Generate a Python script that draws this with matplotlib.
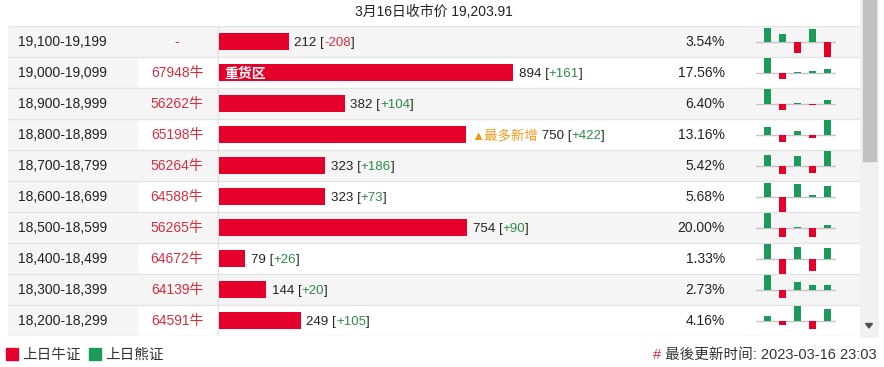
import numpy as np
import matplotlib.pyplot as plt
from matplotlib.patches import Patch, Rectangle, Polygon

plt.rcParams['font.family'] = ['Liberation Sans', 'Noto Sans CJK SC']

# data
title = '3月16日收市价 19,203.91'
ranges = ['19,100-19,199', '19,000-19,099', '18,900-18,999', '18,800-18,899',
          '18,700-18,799', '18,600-18,699', '18,500-18,599', '18,400-18,499',
          '18,300-18,399', '18,200-18,299']
codes = ['-', '67948牛', '56262牛', '65198牛', '56264牛', '64588牛',
         '56265牛', '64672牛', '64139牛', '64591牛']
volumes = [212, 894, 382, 750, 323, 323, 754, 79, 144, 249]
changes = [-208, 161, 104, 422, 186, 73, 90, 26, 20, 105]
shares = [3.54, 17.56, 6.40, 13.16, 5.42, 5.68, 20.00, 1.33, 2.73, 4.16]
# last 5 days (relative size, + = 熊证 green, - = 牛证 red)
history = [
    [14, 8, -11, 13, -16],
    [15, -6, 1, 2, 4.5],
    [15, -6, 1, -1, 4.5],
    [8, -7, 4, -2.5, 15],
    [11, -8, 10, -7, 15],
    [14, -16, 13, 2, 11],
    [15, -9, 1, -9, 3.5],
    [15, -15.5, 12, -12, 11],
    [15.5, -7.5, 8, 5.5, 5.5],
    [5.5, -3.5, 15.5, -7.5, 12.5],
]
heavy_row = int(np.argmax(volumes))   # 重货区
top_new = int(np.argmax(changes))     # 最多新增
updated = '最後更新时间: 2023-03-16 23:03'

RED = '#e4002b'
GREEN = '#1b9a59'
TXT = '#222222'
TXT_RED = '#d3303f'
TXT_GREEN = '#2e8b4a'
ORANGE = '#ec9a1c'
GRAY_BG = '#f5f5f5'
LINE = '#e4e4e4'

W, H = 884, 367
n = len(ranges)
rows = np.arange(n)


def px(x0, y0, x1, y1):  # pixel box -> figure fraction
    return [x0 / W, 1 - y1 / H, (x1 - x0) / W, (y1 - y0) / H]


fig = plt.figure(figsize=(W / 100, H / 100), dpi=100)

# table background + text columns
tab = fig.add_axes(px(8, 26, 862, 336))
tab.set_xlim(8, 862)
tab.set_ylim(n, 0)
tab.axis('off')
bg = [GRAY_BG if i % 2 == 0 else 'white' for i in rows]
tab.barh(rows, 854, left=8, height=1, align='edge', color=bg, zorder=0)
tab.barh(rows, 130, left=8, height=1, align='edge', color=GRAY_BG, zorder=0)
tab.hlines(np.arange(n + 1), 8, 862, color=LINE, lw=1, zorder=1)
tab.vlines(218, 0, n, color=LINE, lw=1, zorder=1)

base = 0.66  # baseline inside a row
for i in rows:
    tab.text(18, i + base, ranges[i], ha='left', va='baseline', fontsize=10, color=TXT)
    tab.text(177, i + base, codes[i], ha='center', va='baseline', fontsize=10, color=TXT_RED)
    tab.text(725, i + base, f'{shares[i]:.2f}%', ha='right', va='baseline', fontsize=10, color=TXT)

# volume bars
ax = fig.add_axes(px(219, 26, 862, 336))
ax.set_xlim(0, 894 * 643 / 294)
ax.set_ylim(n, 0)
ax.axis('off')
ax.barh(rows + 0.5, volumes, height=0.55, color=RED)


def segments(y, x, parts):
    # coloured pieces of one label, each placed right after the previous one
    t = ax.annotate(parts[0][0], xy=(x, y), xytext=(4, 0), textcoords='offset points',
                    ha='left', va='baseline', fontsize=9.6, color=parts[0][1])
    for s, c in parts[1:]:
        t = ax.annotate(s, xy=(1, 0), xycoords=t, ha='left', va='bottom',
                        fontsize=9.6, color=c)


for i in rows:
    ch = changes[i]
    parts = [(f'{volumes[i]} [', TXT), (f'{ch:+d}', TXT_GREEN if ch > 0 else TXT_RED), (']', TXT)]
    if i == top_new:
        parts = [('▲最多新增', ORANGE), (' ' + parts[0][0], TXT)] + parts[1:]
    segments(i + base, volumes[i], parts)

ax.annotate('重货区', xy=(0, heavy_row + base), xytext=(4, 0), textcoords='offset points',
            ha='left', va='baseline', fontsize=10, color='white', fontweight='bold')

# small 5-day charts
for i, vals in enumerate(history):
    m = fig.add_axes(px(756, 26 + 31 * i, 836, 57 + 31 * i))
    m.bar(range(5), vals, width=0.47, color=[GREEN if v > 0 else RED for v in vals], zorder=2)
    m.axhline(0, color='#c4c4c4', lw=1, zorder=1)
    m.set_xlim(-0.77, 4.57)
    m.set_ylim(-14.7, 16.3)
    m.axis('off')

# title
fig.text(434 / W, 1 - 12 / H, title, ha='center', va='center', fontsize=10, color=TXT)

# scrollbar
sb = fig.add_axes(px(860, 0, 879, 338))
sb.set_xlim(0, 19)
sb.set_ylim(338, 0)
sb.set_facecolor('#f1f1f1')
sb.set_xticks([])
sb.set_yticks([])
for s in sb.spines.values():
    s.set_visible(False)
sb.add_patch(Rectangle((3, 0), 13, 161, color='#c1c1c1'))
sb.add_patch(Polygon([(5.5, 323.5), (12.5, 323.5), (9, 328)], color='#505050'))

# legend + update time
fig.legend(handles=[Patch(color=RED, label='上日牛证'), Patch(color=GREEN, label='上日熊证')],
           loc='lower left', bbox_to_anchor=(6 / W, 5 / H), ncol=2, frameon=False,
           fontsize=10.5, handlelength=0.8, handleheight=0.8, handletextpad=0.3,
           columnspacing=0.6, borderpad=0, borderaxespad=0, labelcolor='#333333')
ft = fig.text(877 / W, 1 - 359 / H, updated, ha='right', va='baseline', fontsize=10.5, color='#333333')
ax.annotate('#', xy=(0, 0), xycoords=ft, xytext=(-3, 0), textcoords='offset points',
            ha='right', va='bottom', fontsize=10.5, color=TXT_RED, annotation_clip=False)

fig.savefig('out.png', dpi=100)
